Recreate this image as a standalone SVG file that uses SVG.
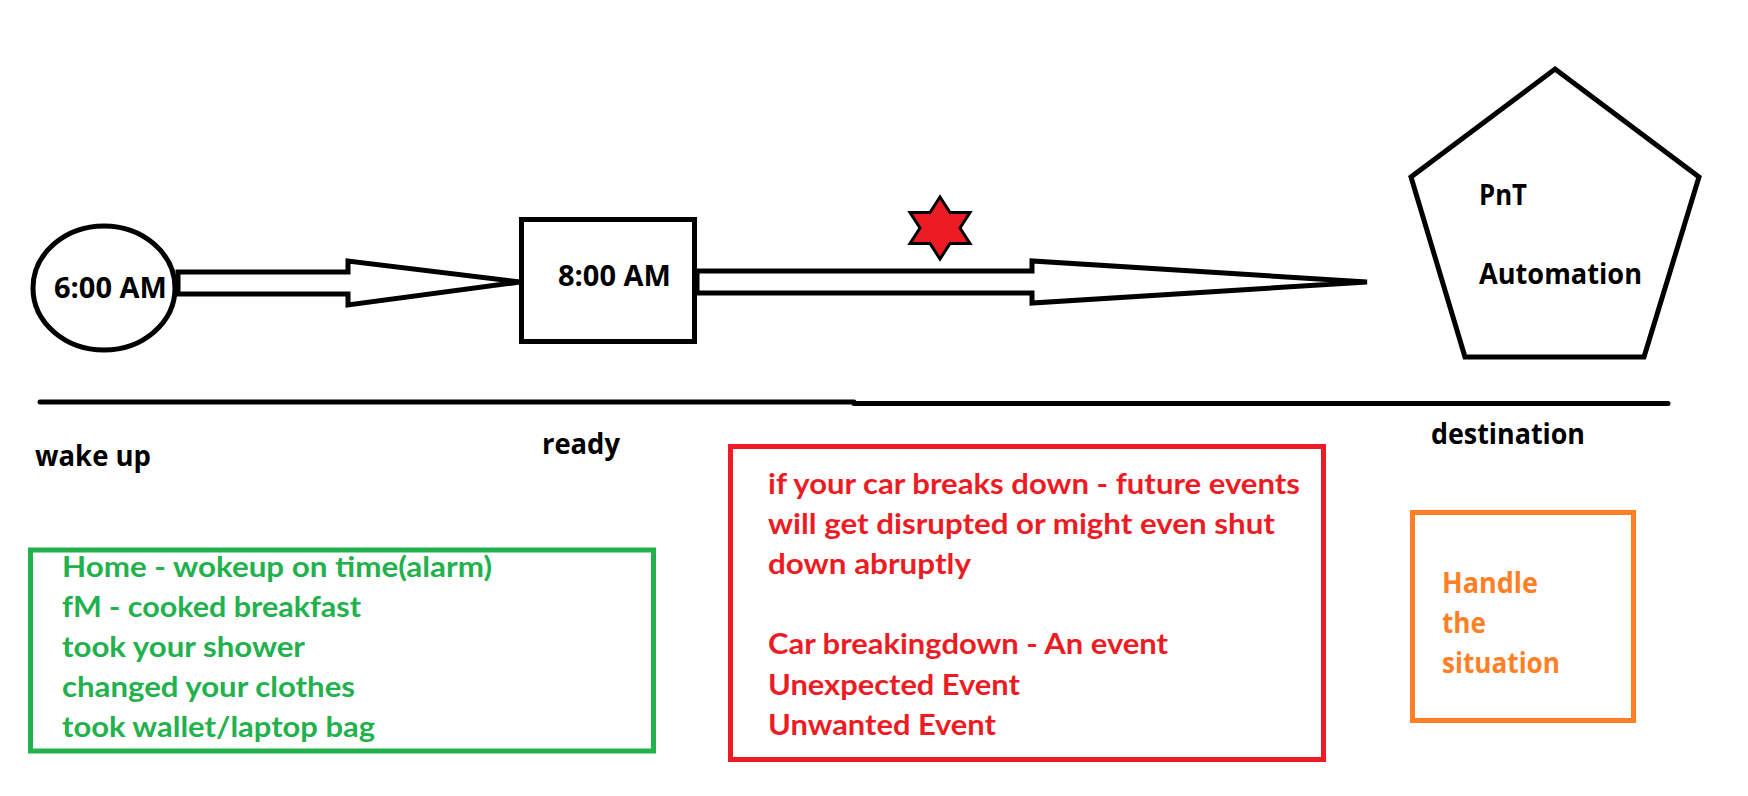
<svg xmlns="http://www.w3.org/2000/svg" width="1748" height="796" viewBox="0 0 1748 796">
<style>
.shape{fill:#ffffff;stroke:#000000;stroke-width:5;stroke-linejoin:miter}
.lbl{font-family:"Open Sans","Segoe UI","DejaVu Sans",sans-serif;font-weight:700;font-size:28px;fill:#000000}
.cal{font-family:Lato,"Open Sans",sans-serif;font-weight:700;font-size:29px}
.g{fill:#22B14C}
.r{fill:#ED1C24}
.o{fill:#FF7F27}
</style>
<rect x="0" y="0" width="1748" height="796" fill="#ffffff"/>
<g id="connectors">
  <polygon class="shape" points="178,272 348,272 348,261 520,282 348,305 348,294 178,294"/>
  <polygon class="shape" points="697,271 1032,271 1032,261 1367,282 1032,303 1032,293 697,293"/>
</g>
<g id="wake">
  <ellipse class="shape" cx="104" cy="288" rx="71" ry="62"/>
  <text class="lbl" x="54" y="298" textLength="113" lengthAdjust="spacingAndGlyphs">6:00 AM</text>
</g>
<g id="ready-node">
  <rect class="shape" x="521.5" y="219.5" width="173" height="122"/>
  <text class="lbl" x="558" y="286" textLength="113" lengthAdjust="spacingAndGlyphs">8:00 AM</text>
</g>
<g id="star">
  <path d="M940,197 L950,212.5 L970,212.5 L960,228 L970,243.5 L950,243.5 L940,259 L930,243.5 L910,243.5 L920,228 L910,212.5 L930,212.5 Z" fill="#ED1C24" stroke="#000000" stroke-width="3" stroke-linejoin="miter"/>
</g>
<g id="destination-node">
  <polygon class="shape" points="1555,69 1699,177 1644,357 1465,357 1411,177"/>
  <text class="lbl" x="1479" y="205" textLength="48" lengthAdjust="spacingAndGlyphs">PnT</text>
  <text class="lbl" x="1479" y="284" textLength="163" lengthAdjust="spacingAndGlyphs">Automation</text>
</g>
<g id="timeline">
  <line x1="40" y1="402" x2="854" y2="402" stroke="#000000" stroke-width="5" stroke-linecap="round"/>
  <line x1="854" y1="403.5" x2="1668" y2="403.5" stroke="#000000" stroke-width="5" stroke-linecap="round"/>
  <text class="lbl" x="35" y="466" textLength="116" lengthAdjust="spacingAndGlyphs">wake up</text>
  <text class="lbl" x="542" y="454" textLength="78" lengthAdjust="spacingAndGlyphs">ready</text>
  <text class="lbl" x="1431" y="444" textLength="154" lengthAdjust="spacingAndGlyphs">destination</text>
</g>
<g id="home-box">
  <rect x="30.5" y="550" width="623" height="201" fill="none" stroke="#22B14C" stroke-width="5"/>
  <text class="cal g" x="62" y="577" textLength="430" lengthAdjust="spacingAndGlyphs">Home - wokeup on time(alarm)</text>
  <text class="cal g" x="62" y="617" textLength="299" lengthAdjust="spacingAndGlyphs">fM - cooked breakfast</text>
  <text class="cal g" x="62" y="657" textLength="243" lengthAdjust="spacingAndGlyphs">took your shower</text>
  <text class="cal g" x="62" y="697" textLength="293" lengthAdjust="spacingAndGlyphs">changed your clothes</text>
  <text class="cal g" x="62" y="737" textLength="313" lengthAdjust="spacingAndGlyphs">took wallet/laptop bag</text>
</g>
<g id="event-box">
  <rect x="730.5" y="446.5" width="593" height="313" fill="none" stroke="#ED1C24" stroke-width="5"/>
  <text class="cal r" x="768" y="494" textLength="532" lengthAdjust="spacingAndGlyphs">if your car breaks down - future events</text>
  <text class="cal r" x="768" y="534" textLength="507" lengthAdjust="spacingAndGlyphs">will get disrupted or might even shut</text>
  <text class="cal r" x="768" y="574" textLength="203" lengthAdjust="spacingAndGlyphs">down abruptly</text>
  <text class="cal r" x="768" y="654" textLength="400" lengthAdjust="spacingAndGlyphs">Car breakingdown - An event</text>
  <text class="cal r" x="768" y="695" textLength="252" lengthAdjust="spacingAndGlyphs">Unexpected Event</text>
  <text class="cal r" x="768" y="735" textLength="228" lengthAdjust="spacingAndGlyphs">Unwanted Event</text>
</g>
<g id="handle-box">
  <rect x="1412.5" y="512.5" width="221" height="208" fill="none" stroke="#FF7F27" stroke-width="5"/>
  <text class="lbl o" x="1442" y="593" textLength="96" lengthAdjust="spacingAndGlyphs">Handle</text>
  <text class="lbl o" x="1442" y="633" textLength="44" lengthAdjust="spacingAndGlyphs">the</text>
  <text class="lbl o" x="1442" y="673" textLength="118" lengthAdjust="spacingAndGlyphs">situation</text>
</g>
</svg>
